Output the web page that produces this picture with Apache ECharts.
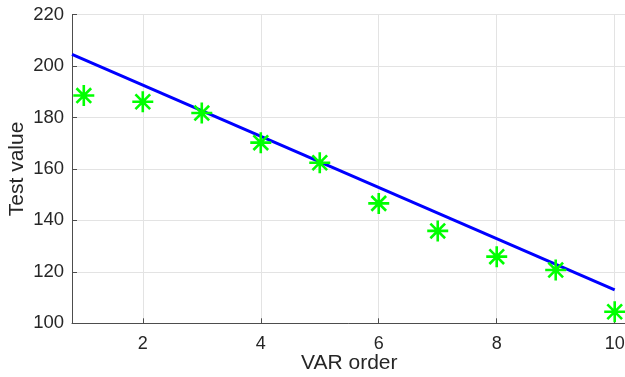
<!DOCTYPE html>
<html><head><meta charset="utf-8">
<script src="https://cdn.jsdelivr.net/npm/echarts@6/dist/echarts.min.js"></script>
<style>html,body{margin:0;padding:0;background:#fff}#c{width:625px;height:377px}</style>
</head><body><div id="c"></div>
<script>
const orders = [1, 2, 3, 4, 5, 6, 7, 8, 9, 10];
const testValues = [188.5, 186.1, 181.7, 170.2, 162.4, 146.6, 135.9, 125.9, 120.7, 104.5];
const fitX = [0.8, 10];
const fitY = [204.5, 113.0];
const xTicks = [2, 4, 6, 8, 10];
const yTicks = [100, 120, 140, 160, 180, 200, 220];

const chart = echarts.init(document.getElementById('c'), null, {renderer: 'canvas'});
const font = 'Liberation Sans, Arial, sans-serif';
chart.setOption({
  animation: false,
  grid: {left: 72, top: 14.5, right: -1.5, bottom: 53.7, containLabel: false, outerBoundsMode: 'none'},
  xAxis: {
    type: 'value', min: 0.8, max: 10.2,
    name: 'VAR order', nameLocation: 'middle', nameGap: 29, nameMoveOverlap: false,
    nameTextStyle: {fontFamily: font, fontSize: 21, color: '#262626'},
    axisLine: {show: true, lineStyle: {color: '#4d4d4d', width: 1}},
    axisTick: {show: true, inside: true, length: 5, customValues: xTicks, lineStyle: {color: '#4d4d4d'}},
    axisLabel: {customValues: xTicks, fontFamily: font, fontSize: 18, color: '#262626', margin: 12},
    splitLine: {show: true, lineStyle: {color: '#e3e3e3', width: 1}}
  },
  yAxis: {
    type: 'value', min: 100, max: 220, interval: 20,
    name: 'Test value', nameLocation: 'middle', nameGap: 44, nameMoveOverlap: false,
    nameTextStyle: {fontFamily: font, fontSize: 21, color: '#262626'},
    axisLine: {show: true, lineStyle: {color: '#4d4d4d', width: 1}},
    axisTick: {show: true, inside: true, length: 5, lineStyle: {color: '#4d4d4d'}},
    axisLabel: {fontFamily: font, fontSize: 18.5, color: '#262626', margin: 8},
    splitLine: {show: true, lineStyle: {color: '#e3e3e3', width: 1}}
  },
  series: [
    {
      type: 'line', data: fitX.map((x, i) => [x, fitY[i]]),
      symbol: 'none', lineStyle: {color: '#0000ff', width: 3}, z: 2
    },
    {
      type: 'scatter', data: orders.map((x, i) => [x, testValues[i]]),
      symbol: 'path://M10,0 L10,20 M0,10 L20,10 M3,3 L17,17 M3,17 L17,3',
      symbolSize: 21,
      itemStyle: {color: 'rgba(0,0,0,0)', borderColor: '#00ff00', borderWidth: 2.6, opacity: 1},
      z: 3
    }
  ]
});
</script></body></html>
